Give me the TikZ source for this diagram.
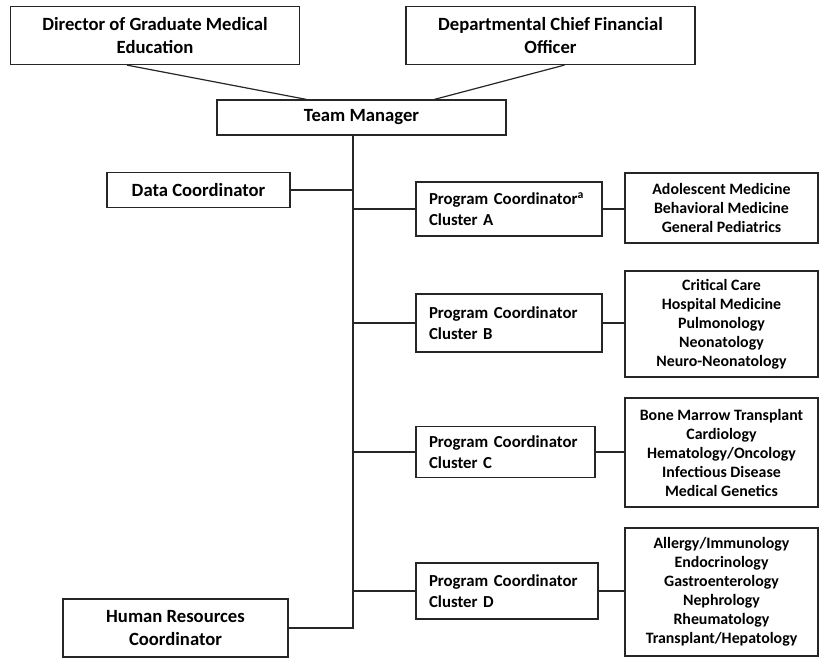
\documentclass[tikz,border=0pt]{standalone}
\usepackage{fontspec}
\setmainfont{Carlito}
\begin{document}
\begin{tikzpicture}[x=0.75pt,y=-0.75pt,
  box/.style={draw=black!85,line width=0.9pt,font=\bfseries\fontsize{14}{16.8}\selectfont,align=center,inner sep=0pt},
  pcbox/.style={box,align=left,inner xsep=9.75pt,font=\bfseries\fontsize{12.6}{16}\selectfont},
  listbox/.style={box,font=\bfseries\fontsize{11.9}{14.25}\selectfont},
  conn/.style={line width=0.9pt,draw=black!85}]
\useasboundingbox (0,0) rectangle (819,658);
\node[box,minimum width=216.75pt,minimum height=43.5pt] (dir) at (155,35.5) {Director of Graduate Medical\\Education};
\node[box,minimum width=216.75pt,minimum height=43.5pt] (cfo) at (550.5,35.5) {Departmental Chief Financial\\Officer};
\node[box,minimum width=216.75pt,minimum height=26.25pt] (tm) at (361.5,117.5) {Team Manager};
\node[box,minimum width=137.25pt,minimum height=26.25pt] (data) at (198.5,190) {Data Coordinator};
\node[box,minimum width=168.75pt,minimum height=43.5pt] (hr) at (175.5,628) {Human Resources\\Coordinator};
\node[pcbox,text width=120pt,minimum height=40.5pt] (pca) at (509,209) {Program Coordinator\textsuperscript{a}\\Cluster A};
\node[pcbox,text width=120pt,minimum height=43.5pt] (pcb) at (509,323) {Program Coordinator\\Cluster B};
\node[pcbox,text width=114.75pt,minimum height=38.25pt] (pcc) at (505.5,452) {Program Coordinator\\Cluster C};
\node[pcbox,text width=117pt,minimum height=42pt] (pcd) at (507,591) {Program Coordinator\\Cluster D};
\node[listbox,minimum width=144.75pt,minimum height=52.5pt] (ra) at (721.5,208) {Adolescent Medicine\\Behavioral Medicine\\General Pediatrics};
\node[listbox,minimum width=144.75pt,minimum height=79.5pt] (rb) at (721.5,324) {Critical Care\\Hospital Medicine\\Pulmonology\\Neonatology\\Neuro-Neonatology};
\node[listbox,minimum width=144.75pt,minimum height=81.75pt] (rc) at (721.5,452.5) {Bone Marrow Transplant\\Cardiology\\Hematology/Oncology\\Infectious Disease\\Medical Genetics};
\node[listbox,minimum width=144.75pt,minimum height=96pt] (rd) at (721.5,592) {Allergy/Immunology\\Endocrinology\\Gastroenterology\\Nephrology\\Rheumatology\\Transplant/Hepatology};
\draw[conn] ([xshift=87.75pt]dir.south west) -- ([xshift=67.5pt]tm.north west);
\draw[conn] ([xshift=119.25pt]cfo.south west) -- ([xshift=163.5pt]tm.north west);
\coordinate (trunktop) at ([xshift=-6.4pt]tm.south);
\coordinate (trunkbot) at (trunktop |- hr.east);
\draw[conn] (trunktop) -- (trunkbot) -- (hr.east);
\draw[conn] (data.east) -- (data.east -| trunktop);
\draw[conn] (pca.west) -- (pca.west -| trunktop);
\draw[conn] (pcb.west) -- (pcb.west -| trunktop);
\draw[conn] (pcc.west) -- (pcc.west -| trunktop);
\draw[conn] (pcd.west) -- (pcd.west -| trunktop);
\draw[conn] (pca.east) -- (pca.east -| ra.west);
\draw[conn] (pcb.east) -- (pcb.east -| rb.west);
\draw[conn] (pcc.east) -- (pcc.east -| rc.west);
\draw[conn] (pcd.east) -- (pcd.east -| rd.west);
\end{tikzpicture}
\end{document}
